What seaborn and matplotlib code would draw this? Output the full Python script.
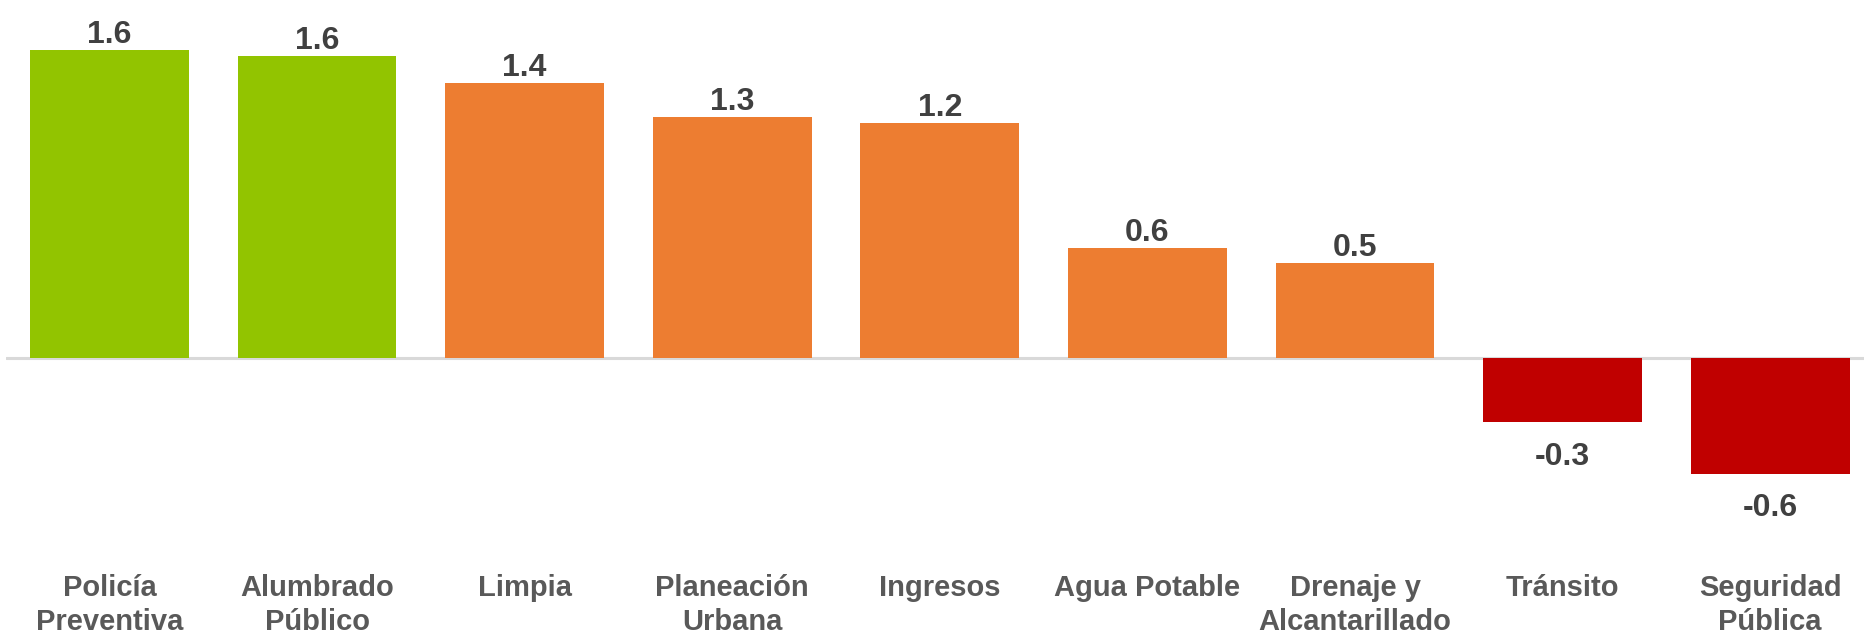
import matplotlib
matplotlib.use("Agg")
import matplotlib.pyplot as plt
import seaborn as sns
import pandas as pd

categories = ["Policía\nPreventiva", "Alumbrado\nPúblico", "Limpia", "Planeación\nUrbana",
              "Ingresos", "Agua Potable", "Drenaje y\nAlcantarillado", "Tránsito", "Seguridad\nPública"]
values = [1.60, 1.57, 1.43, 1.25, 1.22, 0.57, 0.495, -0.33, -0.60]
value_labels = ["1.6", "1.6", "1.4", "1.3", "1.2", "0.6", "0.5", "-0.3", "-0.6"]
colors = ["#92C400", "#92C400", "#ED7D31", "#ED7D31", "#ED7D31", "#ED7D31", "#ED7D31", "#C00000", "#C00000"]

sns.set_theme(style="white")
plt.rcParams["font.family"] = ["Liberation Sans", "DejaVu Sans"]

W, H, dpi = 1864, 635, 100
fig = plt.figure(figsize=(W / dpi, H / dpi), dpi=dpi)
fig.patch.set_facecolor("white")

zero_px = 358.0
ppu = 192.5
left_px, right_px = 5.7, 1874.0
bottom_px = 560.0
ax = fig.add_axes([left_px / W, (H - bottom_px) / H, (right_px - left_px) / W, bottom_px / H])

df = pd.DataFrame({"cat": categories, "val": values})
sns.barplot(data=df, x="cat", y="val", hue="cat", palette=colors, legend=False,
            width=0.765, ax=ax, saturation=1, edgecolor="none")

ax.set_ylim(-(bottom_px - zero_px) / ppu, zero_px / ppu)
ax.set_xlim(-0.5, len(categories) - 0.5)
ax.axhline(0, color="#D9D9D9", lw=2.2, zorder=0.5)
for s in ax.spines.values():
    s.set_visible(False)
ax.set_yticks([])
ax.set_xlabel("")
ax.set_ylabel("")
ax.tick_params(axis="x", length=0, pad=10)
ax.set_xticks(range(len(categories)))
ax.set_xticklabels(categories, fontsize=21, fontweight="bold", color="#595959",
                   linespacing=1.26, va="top")

for i, (v, lab) in enumerate(zip(values, value_labels)):
    off = 7 if v >= 0 else -43
    ax.annotate(lab, (i, v), xytext=(0, off), textcoords="offset pixels", ha="center", va="baseline",
                fontsize=23, fontweight="bold", color="#404040")

fig.savefig("out.png", dpi=dpi, facecolor="white")
